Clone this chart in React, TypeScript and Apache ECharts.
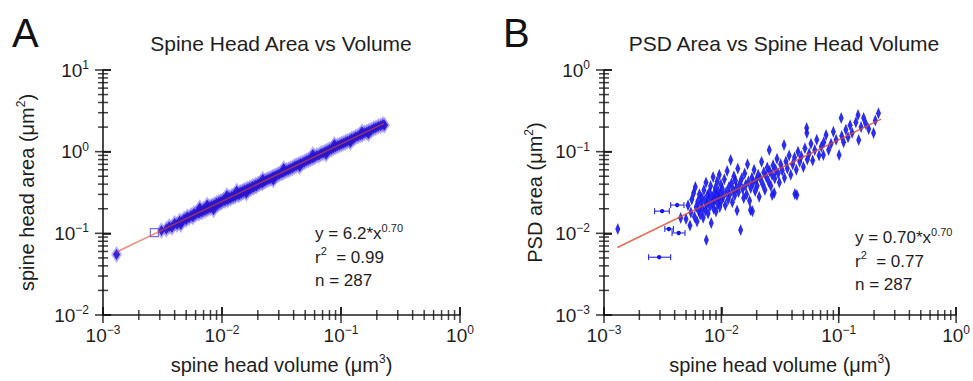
import React, { useEffect, useRef } from 'react';
import * as echarts from 'echarts';

// ---------- data ----------
const xTickExponents = [-3, -2, -1, 0];
const yTickExponentsA = [-2, -1, 0, 1];
const yTickExponentsB = [-3, -2, -1, 0];

// Panel A: spine head volume (um^3) vs spine head area (um^2)
const headAreaPoints: [number, number][] = [
  [0.0013, 0.055], [0.0031, 0.108], [0.0034, 0.112], [0.0036, 0.121], [0.0038, 0.118],
  [0.004, 0.133], [0.0042, 0.128], [0.0044, 0.142], [0.0045, 0.128], [0.0046, 0.139],
  [0.0048, 0.15], [0.005, 0.147], [0.0051, 0.16], [0.0053, 0.155], [0.0055, 0.165],
  [0.0057, 0.158], [0.0058, 0.175], [0.006, 0.171], [0.0062, 0.18], [0.0064, 0.176],
  [0.0065, 0.205], [0.0066, 0.186], [0.0068, 0.183], [0.007, 0.197], [0.0072, 0.19],
  [0.0074, 0.203], [0.0075, 0.222], [0.0076, 0.198], [0.0078, 0.21], [0.008, 0.205],
  [0.0082, 0.218], [0.0084, 0.212], [0.0085, 0.195], [0.0086, 0.224], [0.0088, 0.219],
  [0.009, 0.233], [0.0092, 0.226], [0.0094, 0.24], [0.0096, 0.235], [0.0098, 0.246],
  [0.01, 0.243], [0.0103, 0.256], [0.0106, 0.25], [0.0109, 0.265], [0.011, 0.29],
  [0.0112, 0.258], [0.0115, 0.274], [0.0118, 0.268], [0.0121, 0.285], [0.0124, 0.278],
  [0.0127, 0.293], [0.013, 0.287], [0.0133, 0.33], [0.0136, 0.302], [0.0139, 0.296],
  [0.0142, 0.318], [0.0145, 0.31], [0.0148, 0.325], [0.0151, 0.32], [0.0155, 0.34],
  [0.0159, 0.331], [0.016, 0.31], [0.0163, 0.348], [0.0167, 0.342], [0.0171, 0.36],
  [0.0175, 0.352], [0.018, 0.375], [0.0185, 0.366], [0.019, 0.388], [0.0195, 0.38],
  [0.02, 0.398], [0.0206, 0.405], [0.0212, 0.418], [0.0218, 0.41], [0.022, 0.46],
  [0.0225, 0.432], [0.0232, 0.44], [0.024, 0.452], [0.0248, 0.463], [0.0256, 0.47],
  [0.0265, 0.485], [0.027, 0.45], [0.0274, 0.498], [0.0283, 0.505], [0.0293, 0.522],
  [0.0303, 0.53], [0.0314, 0.548], [0.0325, 0.555], [0.033, 0.62], [0.0337, 0.575],
  [0.0349, 0.588], [0.0362, 0.6], [0.0375, 0.618], [0.039, 0.63], [0.0405, 0.66],
  [0.042, 0.672], [0.0437, 0.69], [0.045, 0.66], [0.0455, 0.712], [0.0473, 0.728],
  [0.0492, 0.748], [0.0512, 0.775], [0.0533, 0.79], [0.0555, 0.818], [0.0578, 0.835],
  [0.058, 0.92], [0.0602, 0.862], [0.0627, 0.895], [0.0653, 0.905], [0.068, 0.948],
  [0.0708, 0.96], [0.0737, 1.0], [0.075, 0.93], [0.0767, 1.02], [0.0798, 1.06],
  [0.083, 1.07], [0.0864, 1.12], [0.088, 1.22], [0.0899, 1.14], [0.0935, 1.18],
  [0.0972, 1.21], [0.101, 1.24], [0.105, 1.27], [0.109, 1.3], [0.113, 1.34],
  [0.118, 1.37], [0.12, 1.3], [0.123, 1.44], [0.128, 1.45], [0.133, 1.52],
  [0.139, 1.54], [0.145, 1.6], [0.15, 1.75], [0.151, 1.62], [0.158, 1.7],
  [0.165, 1.74], [0.17, 1.66], [0.172, 1.8], [0.18, 1.84], [0.188, 1.92],
  [0.196, 1.96], [0.205, 2.03], [0.215, 2.08], [0.225, 2.15], [0.232, 2.1],
];
const headAreaOpenPoints: [number, number][] = [[0.0027, 0.102]];
const headAreaFit: [number, number][] = [[0.0013, 0.059], [0.23, 2.22]];

// Panel B: spine head volume (um^3) vs PSD area (um^2)
const psdPoints: [number, number][] = [
  [0.00131, 0.0113], [0.0045, 0.0154], [0.00745, 0.0083],
  [0.005, 0.015], [0.0052, 0.022], [0.0054, 0.0125], [0.0055, 0.018], [0.0056, 0.026],
  [0.0058, 0.0311], [0.0059, 0.016], [0.006, 0.0369], [0.0061, 0.021], [0.0062, 0.014],
  [0.0063, 0.0245], [0.0064, 0.019], [0.0065, 0.03], [0.0066, 0.017], [0.0067, 0.023],
  [0.0068, 0.0275], [0.0069, 0.02], [0.007, 0.0155], [0.0071, 0.034], [0.0072, 0.025],
  [0.0073, 0.019], [0.0074, 0.042], [0.0075, 0.0225], [0.0076, 0.029], [0.0077, 0.0175],
  [0.0078, 0.026], [0.0079, 0.032], [0.008, 0.0215], [0.0081, 0.038], [0.0082, 0.0134],
  [0.0083, 0.028], [0.0084, 0.024], [0.0085, 0.0489], [0.0086, 0.02], [0.0087, 0.031],
  [0.0088, 0.0255], [0.0089, 0.036], [0.009, 0.0185], [0.0091, 0.029], [0.0092, 0.043],
  [0.0093, 0.023], [0.0094, 0.033], [0.0095, 0.027], [0.0096, 0.052], [0.0097, 0.021],
  [0.0098, 0.03], [0.0099, 0.0395], [0.01, 0.025], [0.0102, 0.035], [0.0104, 0.028],
  [0.0106, 0.046], [0.0108, 0.022], [0.011, 0.032], [0.0112, 0.058], [0.0114, 0.026],
  [0.0116, 0.037], [0.0118, 0.03], [0.012, 0.0789], [0.0122, 0.041], [0.0124, 0.024],
  [0.0126, 0.034], [0.0128, 0.05], [0.013, 0.029], [0.0132, 0.044], [0.0134, 0.036],
  [0.0136, 0.019], [0.0138, 0.062], [0.014, 0.032], [0.0143, 0.04], [0.0146, 0.011],
  [0.0149, 0.047], [0.0152, 0.035], [0.0155, 0.027], [0.0158, 0.054], [0.0161, 0.039],
  [0.0164, 0.03], [0.0167, 0.07], [0.017, 0.043], [0.0174, 0.025], [0.0177, 0.0193],
  [0.0178, 0.036], [0.0182, 0.048], [0.0184, 0.0187], [0.0186, 0.041], [0.019, 0.06],
  [0.0194, 0.033], [0.0198, 0.045], [0.0202, 0.038], [0.0206, 0.052], [0.021, 0.028],
  [0.0215, 0.047], [0.022, 0.075], [0.0225, 0.04], [0.023, 0.056], [0.0235, 0.034],
  [0.024, 0.05], [0.0246, 0.064], [0.0252, 0.043], [0.0256, 0.1047], [0.0258, 0.058],
  [0.0264, 0.038], [0.027, 0.052], [0.0271, 0.0294], [0.0276, 0.068], [0.0282, 0.0311],
  [0.0285, 0.047], [0.029, 0.06], [0.0298, 0.082], [0.0305, 0.054], [0.0312, 0.042],
  [0.032, 0.07], [0.033, 0.059], [0.0342, 0.1205], [0.0345, 0.048], [0.0355, 0.076],
  [0.0365, 0.062], [0.0378, 0.09], [0.039, 0.052], [0.0405, 0.07], [0.042, 0.085],
  [0.0423, 0.0303], [0.0435, 0.06], [0.044, 0.0294], [0.045, 0.1], [0.0465, 0.075],
  [0.048, 0.088], [0.05, 0.065], [0.0515, 0.11], [0.0533, 0.1945], [0.0535, 0.169],
  [0.054, 0.08], [0.056, 0.095], [0.058, 0.125], [0.06, 0.078], [0.0625, 0.105],
  [0.065, 0.14], [0.068, 0.09], [0.071, 0.115], [0.074, 0.0908], [0.0745, 0.13],
  [0.078, 0.16], [0.082, 0.105], [0.086, 0.125], [0.09, 0.175], [0.095, 0.14],
  [0.1007, 0.0908], [0.105, 0.258], [0.106, 0.155], [0.11, 0.13], [0.115, 0.185],
  [0.12, 0.15], [0.125, 0.21], [0.13, 0.17], [0.14, 0.23], [0.146, 0.281],
  [0.148, 0.139], [0.155, 0.2], [0.163, 0.258], [0.17, 0.22], [0.18, 0.19],
  [0.198, 0.169], [0.205, 0.24], [0.218, 0.296],
];
// [x, y, xLow, xHigh] points drawn with horizontal error bars
const psdHBarPoints: [number, number, number, number][] = [
  [0.00295, 0.0051, 0.0024, 0.0037],
  [0.00313, 0.0187, 0.0027, 0.0036],
  [0.0042, 0.0222, 0.0037, 0.0048],
  [0.00357, 0.0113, 0.0033, 0.0039],
  [0.00433, 0.0101, 0.0038, 0.0049],
];
const psdFit: [number, number][] = [[0.0013, 0.0067], [0.23, 0.25]];

const panelLetters = ['A', 'B'];
const panelTitles = ['Spine Head Area vs Volume', 'PSD Area vs Spine Head Volume'];
const fitTexts = [
  { eq: 'y = 6.2*x', exp: '0.70', r2: '0.99', n: '287' },
  { eq: 'y = 0.70*x', exp: '0.70', r2: '0.77', n: '287' },
];
const minorMultipliers = [2, 3, 4, 5, 6, 7, 8, 9];

// ---------- styling ----------
const FONT = '"Liberation Sans", Arial, Helvetica, sans-serif';
const INK = '#1e1e1e';
const TICK = '#111111';
const BLUE_A = '#2a14cc';
const BLUE_A_HALO = '#7a70f4';
const BLUE_B = '#1616ee';
const RED = '#e0482c';
const MAJOR_LEN = 8;
const MINOR_LEN = 5;

const tickRich = {
  b: { fontSize: 19, lineHeight: 22, fontFamily: FONT, color: INK, fontWeight: 'normal' },
  s: { fontSize: 12, lineHeight: 12, fontFamily: FONT, color: INK, fontWeight: 'normal', verticalAlign: 'top' },
};
const nameRich = {
  n: { fontSize: 20, lineHeight: 24, fontFamily: FONT, color: INK, fontWeight: 'normal' },
  s: { fontSize: 12, lineHeight: 12, fontFamily: FONT, color: INK, fontWeight: 'normal', verticalAlign: 'top' },
};
const noteRich = {
  n: { fontSize: 17, lineHeight: 23.5, fontFamily: FONT, color: INK, fontWeight: 'normal' },
  s: { fontSize: 11, lineHeight: 12, fontFamily: FONT, color: INK, fontWeight: 'normal', verticalAlign: 'top' },
};

const expFormatter = (exps: number[]) => (v: number) => {
  const e = Math.round(Math.log10(v));
  const found = exps.find((x) => x === e);
  const s = found === undefined ? e : found;
  return `{b|10}{s|${s < 0 ? '\u2212' + Math.abs(s) : String(s)}}`;
};

function minorValues(from: number, to: number) {
  const out: number[] = [];
  for (let e = from; e < to; e++) for (const m of minorMultipliers) out.push(m * Math.pow(10, e));
  return out;
}
function majorValues(exps: number[]) {
  return exps.map((e) => Math.pow(10, e));
}

// tick marks (decades and 2..9 x 10^k) drawn as thin rect symbols on the axes
function tickSeries(idx: number, xExps: number[], yExps: number[]) {
  const xMin = Math.pow(10, xExps[0]);
  const yMin = Math.pow(10, yExps[0]);
  const xMinor = minorValues(xExps[0], xExps[xExps.length - 1]).map((v) => [v, yMin]);
  const yMinor = minorValues(yExps[0], yExps[yExps.length - 1]).map((v) => [xMin, v]);
  const xMajor = majorValues(xExps).map((v) => [v, yMin]);
  const yMajor = majorValues(yExps).map((v) => [xMin, v]);
  const base = { type: 'scatter', xAxisIndex: idx, yAxisIndex: idx, clip: false, z: 10, itemStyle: { color: TICK } };
  return [
    { ...base, data: xMinor, symbol: 'rect', symbolSize: [1.5, MINOR_LEN * 2] },
    { ...base, data: yMinor, symbol: 'rect', symbolSize: [MINOR_LEN * 2, 1.5] },
    { ...base, data: xMajor, symbol: 'rect', symbolSize: [1.6, MAJOR_LEN * 2] },
    { ...base, data: yMajor, symbol: 'rect', symbolSize: [MAJOR_LEN * 2, 1.6] },
  ];
}

const hbarRender = (params: any, api: any) => {
  const y = api.value(1);
  const p = api.coord([api.value(0), y]);
  const lo = api.coord([api.value(2), y]);
  const hi = api.coord([api.value(3), y]);
  const st = { stroke: BLUE_B, lineWidth: 1 };
  return {
    type: 'group',
    children: [
      { type: 'line', shape: { x1: lo[0], y1: p[1], x2: hi[0], y2: p[1] }, style: st },
      { type: 'line', shape: { x1: lo[0], y1: p[1] - 3, x2: lo[0], y2: p[1] + 3 }, style: st },
      { type: 'line', shape: { x1: hi[0], y1: p[1] - 3, x2: hi[0], y2: p[1] + 3 }, style: st },
      { type: 'circle', shape: { cx: p[0], cy: p[1], r: 2.2 }, style: { fill: BLUE_B } },
    ],
  };
};

function makeXAxis(gridIndex: number) {
  return {
    type: 'log',
    gridIndex,
    min: Math.pow(10, xTickExponents[0]),
    max: Math.pow(10, xTickExponents[xTickExponents.length - 1]),
    axisLine: { show: true, lineStyle: { color: INK, width: 1.6 } },
    axisTick: { show: true, inside: true, length: MAJOR_LEN, lineStyle: { color: TICK, width: 1.5 } },
    splitLine: { show: false },
    axisLabel: { margin: 9, formatter: expFormatter(xTickExponents), rich: tickRich },
    name: '{n|spine head volume (\u03bcm}{s|3}{n|)}',
    nameLocation: 'middle',
    nameGap: 38,
    nameTextStyle: { rich: nameRich },
    z: 10,
  };
}

function makeYAxis(gridIndex: number, exps: number[], name: string, gap: number) {
  return {
    type: 'log',
    gridIndex,
    min: Math.pow(10, exps[0]),
    max: Math.pow(10, exps[exps.length - 1]),
    axisLine: { show: true, lineStyle: { color: INK, width: 1.6 } },
    axisTick: { show: true, inside: true, length: MAJOR_LEN, lineStyle: { color: TICK, width: 1.5 } },
    splitLine: { show: false },
    axisLabel: { margin: 14, formatter: expFormatter(exps), rich: tickRich },
    name,
    nameLocation: 'middle',
    nameGap: gap,
    nameTextStyle: { rich: nameRich },
    z: 10,
  };
}

export default function App() {
  const ref = useRef<HTMLDivElement>(null);

  useEffect(() => {
    if (!ref.current) return;
    const chart = echarts.init(ref.current, undefined, { renderer: 'svg' });

    const noteText = (f: typeof fitTexts[number]) =>
      `{n|${f.eq}}{s|${f.exp}}\n{n|r}{s|2}{n|  = ${f.r2}}\n{n|n = ${f.n}}`;

    const option: any = {
      animation: false,
      backgroundColor: '#ffffff',
      title: [
        { text: panelLetters[0], left: 12, top: 13, padding: 0, textStyle: { fontSize: 40, fontWeight: 'normal', fontFamily: FONT, color: '#111' } },
        { text: panelLetters[1], left: 503, top: 13, padding: 0, textStyle: { fontSize: 40, fontWeight: 'normal', fontFamily: FONT, color: '#111' } },
        { text: panelTitles[0], left: 281, top: 33, padding: 0, textAlign: 'center', textStyle: { fontSize: 21, fontWeight: 'normal', fontFamily: FONT, color: INK } },
        { text: panelTitles[1], left: 784, top: 33, padding: 0, textAlign: 'center', textStyle: { fontSize: 21, fontWeight: 'normal', fontFamily: FONT, color: INK } },
        { text: noteText(fitTexts[0]), left: 315, top: 222, padding: 0, textStyle: { fontWeight: 'normal', rich: noteRich } },
        { text: noteText(fitTexts[1]), left: 855, top: 226, padding: 0, textStyle: { fontWeight: 'normal', rich: noteRich } },
      ],
      grid: [
        { left: 103, top: 70, width: 357, height: 245 },
        { left: 604, top: 70, width: 358, height: 245 },
      ],
      xAxis: [makeXAxis(0), makeXAxis(1)],
      yAxis: [
        makeYAxis(0, yTickExponentsA, '{n|spine head area (\u03bcm}{s|2}{n|)}', 64),
        makeYAxis(1, yTickExponentsB, '{n|PSD area (\u03bcm}{s|2}{n|)}', 57),
      ],
      series: [
        {
          type: 'scatter', xAxisIndex: 0, yAxisIndex: 0, data: headAreaPoints,
          symbol: 'diamond', symbolSize: [11, 17],
          itemStyle: { color: BLUE_A_HALO, opacity: 0.55 }, z: 2,
        },
        {
          type: 'scatter', xAxisIndex: 0, yAxisIndex: 0, data: headAreaPoints,
          symbol: 'diamond', symbolSize: [7, 11],
          itemStyle: { color: BLUE_A, opacity: 0.9 }, z: 3,
        },
        {
          type: 'scatter', xAxisIndex: 0, yAxisIndex: 0, data: headAreaOpenPoints,
          symbol: 'rect', symbolSize: 8,
          itemStyle: { color: '#ffffff', borderColor: '#5a4ae8', borderWidth: 1.2 }, z: 3,
        },
        {
          type: 'line', xAxisIndex: 0, yAxisIndex: 0, data: headAreaFit, showSymbol: false,
          lineStyle: { color: RED, width: 1.5, opacity: 0.6 }, z: 4,
        },
        {
          type: 'scatter', xAxisIndex: 1, yAxisIndex: 1, data: psdPoints,
          symbol: 'diamond', symbolSize: [5, 12],
          itemStyle: { color: BLUE_B, opacity: 0.9 }, z: 3,
        },
        {
          type: 'custom', xAxisIndex: 1, yAxisIndex: 1, data: psdHBarPoints,
          encode: { x: 0, y: 1 }, renderItem: hbarRender, z: 3,
        },
        {
          type: 'line', xAxisIndex: 1, yAxisIndex: 1, data: psdFit, showSymbol: false,
          lineStyle: { color: RED, width: 1.5, opacity: 0.8 }, z: 4,
        },
        ...tickSeries(0, xTickExponents, yTickExponentsA),
        ...tickSeries(1, xTickExponents, yTickExponentsB),
      ],
    };

    chart.setOption(option);
    return () => chart.dispose();
  }, []);

  return (
    <div
      ref={ref}
      style={{ position: 'fixed', left: 0, top: 0, width: 973, height: 381, background: '#fff' }}
    />
  );
}
